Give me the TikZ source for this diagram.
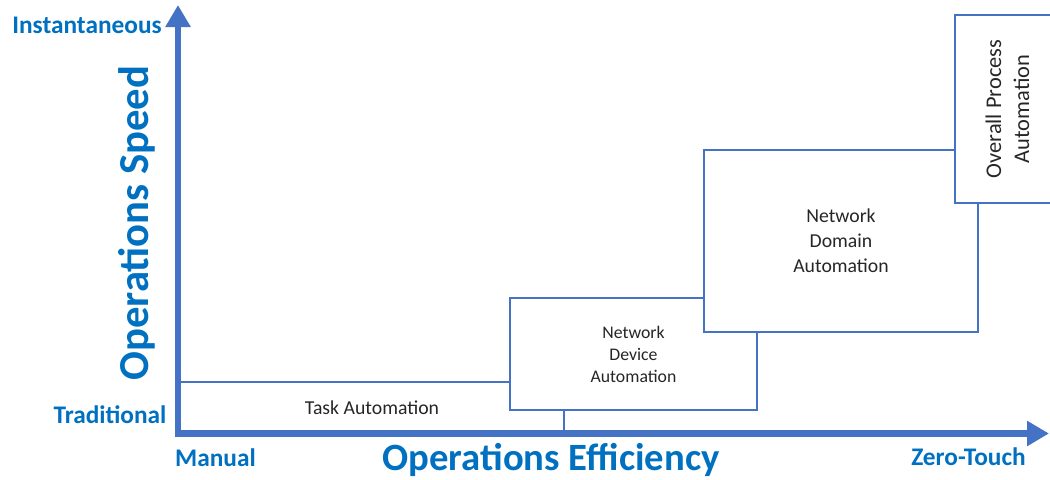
\documentclass[tikz,border=0pt]{standalone}
\usepackage{fontspec}
\setmainfont{Carlito}
\usetikzlibrary{arrows.meta}
\definecolor{axisblue}{HTML}{4472C4}
\definecolor{labelblue}{HTML}{0070C0}
\definecolor{boxtext}{HTML}{262626}
\begin{document}
\begin{tikzpicture}[x=0.75pt,y=-0.75pt,
  box/.style={draw=axisblue, line width=0.9pt, fill=white, inner sep=0pt, outer sep=0pt, text=boxtext, align=center},
  axisline/.style={draw=axisblue, line width=4.8pt, -{Triangle[length=16.5pt,width=18pt]}},
  axlabel/.style={text=labelblue, font=\fontsize{19}{23}\selectfont\bfseries, inner sep=0pt},
]
\useasboundingbox (0,0) rectangle (1050,479);
\clip (0,0) rectangle (1050,479);
% boxes (drawn back to front)
\node[box, minimum width=288pt, minimum height=38.25pt, font=\fontsize{14.8}{18}\selectfont] (task) at (372,407.5) {Task Automation};
\node[box, minimum width=185.25pt, minimum height=84pt, font=\fontsize{13.3}{16.5}\selectfont] (nda) at (633.5,354) {Network\\Device\\Automation};
\node[box, minimum width=205.5pt, minimum height=136.5pt, font=\fontsize{14.8}{18.75}\selectfont] (ndoa) at (841,241) {Network\\Domain\\Automation};
\node[box, rotate=90, minimum width=141pt, minimum height=78.75pt, font=\fontsize{16.8}{21}\selectfont] (opa) at (1007.5,109) {Overall Process\\Automation};
% axes
\coordinate (vbase) at (178,436.5);
\coordinate (vtip) at (178,5);
\coordinate (hbase) at (175,433.5);
\coordinate (htip) at (1049,433.5);
\draw[axisline] (vbase) -- (vtip);
\draw[axisline] (hbase) -- (htip);
% labels
\node[axlabel, anchor=base] (inst) at (87,33) {Instantaneous};
\node[axlabel, anchor=base] (trad) at (110,423) {Traditional};
\node[axlabel, anchor=base] (manual) at (215.5,466) {Manual};
\node[axlabel, anchor=base] (zt) at (968.5,465) {Zero-Touch};
\node[axlabel, font=\fontsize{29}{35}\selectfont\bfseries, anchor=base] (eff) at (551,470.5) {Operations Efficiency};
\node[axlabel, font=\fontsize{32}{38}\selectfont\bfseries, rotate=90, anchor=base] (speed) at (148,223) {Operations Speed};
\end{tikzpicture}
\end{document}
